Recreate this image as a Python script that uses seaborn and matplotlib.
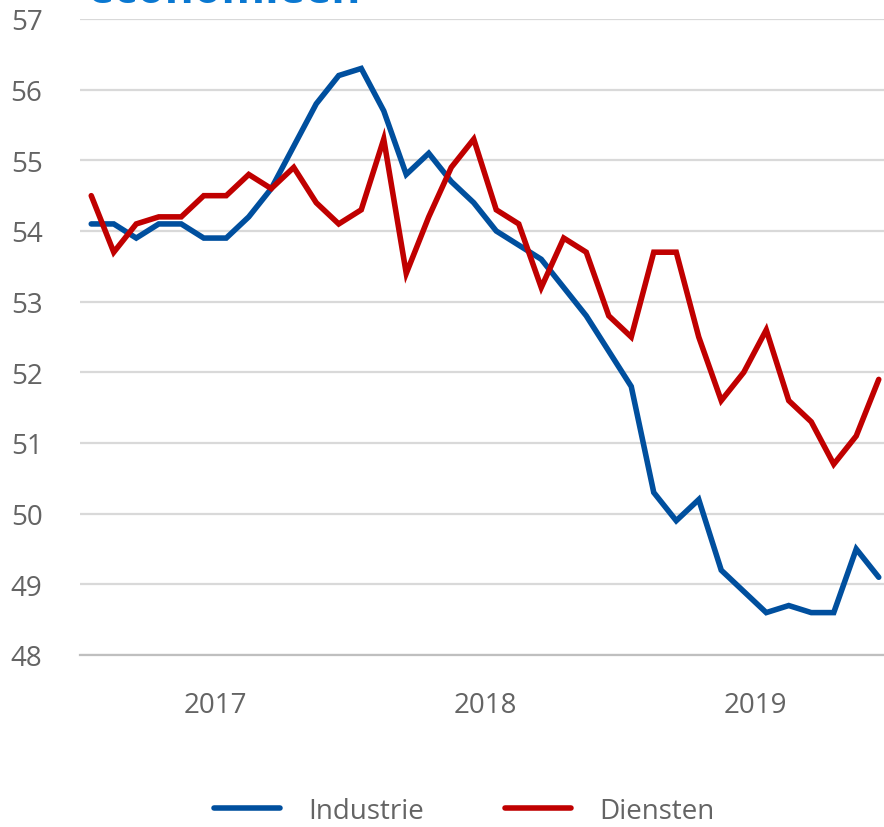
import matplotlib
matplotlib.use("Agg")
import matplotlib.pyplot as plt
from matplotlib.lines import Line2D
import numpy as np
import pandas as pd
import seaborn as sns

# Monthly PMI readings, Jan 2017 - Dec 2019
years = ["2017", "2018", "2019"]
industrie = [54.1, 54.1, 53.9, 54.1, 54.1, 53.9, 53.9, 54.2, 54.6, 55.2, 55.8, 56.2,
             56.3, 55.7, 54.8, 55.1, 54.7, 54.4, 54.0, 53.8, 53.6, 53.2, 52.8, 52.3,
             51.8, 50.3, 49.9, 50.2, 49.2, 48.9, 48.6, 48.7, 48.6, 48.6, 49.5, 49.1]
diensten = [54.5, 53.7, 54.1, 54.2, 54.2, 54.5, 54.5, 54.8, 54.6, 54.9, 54.4, 54.1,
            54.3, 55.3, 53.4, 54.2, 54.9, 55.3, 54.3, 54.1, 53.2, 53.9, 53.7, 52.8,
            52.5, 53.7, 53.7, 52.5, 51.6, 52.0, 52.6, 51.6, 51.3, 50.7, 51.1, 51.9]
series_names = ["Industrie", "Diensten"]
colors = ["#004f9e", "#c00000"]

n = len(industrie)
df = pd.DataFrame({
    "maand": list(range(n)) * 2,
    "waarde": industrie + diensten,
    "reeks": [series_names[0]] * n + [series_names[1]] * n,
})

sns.set_theme(style="white")
plt.rcParams["font.family"] = ["Open Sans", "DejaVu Sans"]

W, H = 884, 828
fig = plt.figure(figsize=(W / 100, H / 100), dpi=100)
left, right, top, bottom = 80, 890, 20, 656
ax = fig.add_axes([left / W, 1 - bottom / H, (right - left) / W, (bottom - top) / H])

sns.lineplot(data=df, x="maand", y="waarde", hue="reeks", palette=colors,
             linewidth=4.0, legend=False, ax=ax, zorder=3)
for ln in ax.get_lines():
    ln.set_solid_joinstyle("miter")
    ln.set_solid_capstyle("round")

ax.set_xlim(-0.5, n - 0.5)
ax.set_ylim(48, 57)
ax.set_xlabel("")
ax.set_ylabel("")

label_color = "#646464"
ax.set_yticks(np.arange(48, 58, 1))
ax.set_yticklabels([str(v) for v in range(48, 58)], fontsize=20, color=label_color)
ax.tick_params(axis="y", length=0, pad=27)
ax.yaxis.grid(True, color="#d9d9d9", linewidth=1.6)
ax.set_axisbelow(True)

# Year boundaries as major ticks, year labels centred as minor ticks
ax.set_xticks([-0.5, 11.5, 23.5, 35.5])
ax.set_xticklabels([])
ax.set_xticks([5.5, 17.5, 29.5], minor=True)
ax.set_xticklabels(years, minor=True, fontsize=20, color=label_color)
ax.tick_params(axis="x", which="major", direction="in", length=8, width=1.3, color="#bfbfbf")
ax.tick_params(axis="x", which="minor", length=0, pad=26)

for side in ["top", "right", "left"]:
    ax.spines[side].set_visible(False)
ax.spines["bottom"].set_color("#bfbfbf")
ax.spines["bottom"].set_linewidth(1.6)

# Heading above the plot, mostly outside the top edge
fig.text(88 / W, 1 - 3 / H, "economieën", fontsize=32, fontweight="bold",
         color="#0a78d1", ha="left", va="baseline")

handles = [Line2D([0], [0], color=c, linewidth=4, solid_capstyle="round") for c in colors]
fig.legend(handles, series_names, loc="center", bbox_to_anchor=(464 / W, 1 - 812 / H),
           ncol=2, frameon=False, handlelength=2.4, handletextpad=1.0,
           columnspacing=2.9, labelcolor=label_color,
           prop={"size": 20})

fig.savefig("out.png", dpi=100)
